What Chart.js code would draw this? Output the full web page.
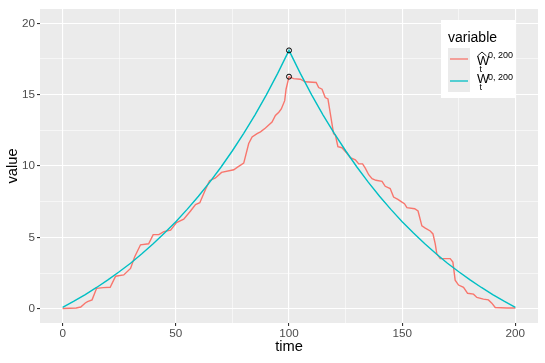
<!DOCTYPE html>
<html>
<head>
<meta charset="utf-8">
<script src="https://cdn.jsdelivr.net/npm/chart.js@4.4.1/dist/chart.umd.min.js"></script>
<style>
  html, body { margin: 0; padding: 0; background: #fff; }
  #wrap { width: 545px; height: 363px; }
</style>
</head>
<body>
<div id="wrap"><canvas id="myChart"></canvas></div>
<script>
// estimated W-hat path (red)
const redTime = [0, 3, 6, 8, 10, 11, 13, 15, 18, 21, 23.4, 27, 30, 31.8, 34.4, 38, 40, 42.5, 44.7, 47.7,
  50.3, 53.5, 56.5, 58.7, 60.6, 63.1, 64.9, 67.5, 70.2, 75.6, 77.1, 80, 82.2, 83.7, 85.9, 87.4, 89.6,
  92.5, 94, 95.5, 96.6, 98.1, 98.7, 100, 102, 105, 107.2, 112, 113.1, 114.6, 116, 117.2, 119.7, 120.5,
  121.6, 123.4, 125.6, 127.1, 129.3, 130.8, 132.5, 133.7, 135.2, 136.7, 138.4, 141.1, 142.5, 144.7,
  146.2, 148.1, 149.9, 151, 152.1, 155.5, 157, 158.7, 160.2, 162.4, 163.6, 164.6, 165.3, 166.8, 171.2,
  172.4, 173.4, 174.9, 177.1, 178.9, 181.5, 183, 185.9, 188.1, 189.6, 191.1, 196.2, 200];
const redValue = [0.02, 0.03, 0.05, 0.12, 0.4, 0.5, 0.62, 1.43, 1.48, 1.5, 2.28, 2.37, 2.82, 3.62, 4.48, 4.55, 5.19, 5.19, 5.4, 5.5,
  6.04, 6.27, 6.85, 7.3, 7.43, 8.35, 8.97, 9.16, 9.55, 9.74, 9.9, 10.2, 11.58, 12.04, 12.27, 12.39, 12.66,
  13.08, 13.54, 13.77, 14.0, 14.58, 15.38, 16.26, 16.12, 16.08, 15.9, 15.85, 15.5, 15.38, 14.8, 14.7, 12.27, 12.16,
  11.35, 11.28, 10.89, 10.59, 10.43, 10.15, 10.15, 9.85, 9.39, 9.11, 9.0, 8.93, 8.58, 8.42,
  7.82, 7.66, 7.47, 7.36, 7.08, 7.01, 6.85, 5.81, 5.65, 5.45, 5.24, 4.55, 3.85, 3.51, 3.51,
  3.27, 2.0, 1.66, 1.5, 1.08, 1.02, 0.79, 0.67, 0.62, 0.39, 0.09, 0.05, 0.05];

// W path (teal)
const tealTime = [0, 5, 10, 15, 20, 25, 30, 35, 40, 45, 50, 55, 60, 65, 70, 75, 80, 85, 90, 95, 100,
  105, 110, 115, 120, 125, 130, 135, 140, 145, 150, 155, 160, 165, 170, 175, 180, 185, 190, 195, 200];
const tealValue = [0.1, 0.53, 0.99, 1.49, 2.02, 2.59, 3.19, 3.85, 4.55, 5.3, 6.1, 6.96, 7.88, 8.87, 9.93, 11.07, 12.29, 13.59, 14.99, 16.49, 18.1,
  16.49, 14.99, 13.59, 12.29, 11.07, 9.93, 8.87, 7.88, 6.96, 6.1, 5.3, 4.55, 3.85, 3.19, 2.59, 2.02, 1.49, 0.99, 0.53, 0.1];

// circled peaks
const peakTime = [100, 100];
const peakValue = [18.1, 16.26];

const timeTicks = [0, 25, 50, 75, 100, 125, 150, 175, 200];
const timeLabels = [0, 50, 100, 150, 200];
const valueTicks = [0, 2.5, 5, 7.5, 10, 12.5, 15, 17.5, 20];
const valueLabels = [0, 5, 10, 15, 20];

const legendTitle = 'variable';
const FONT = '"Liberation Sans", Arial, sans-serif';

const toPoints = (xs, ys) => xs.map((x, i) => ({x: x, y: ys[i]}));

const panelBg = {
  id: 'panelBg',
  beforeDraw(chart) {
    const {ctx, chartArea: a} = chart;
    ctx.save();
    ctx.fillStyle = '#EBEBEB';
    ctx.fillRect(a.left, a.top, a.right - a.left, a.bottom - a.top);
    ctx.restore();
  }
};

const legendBox = {
  id: 'legendBox',
  afterDraw(chart) {
    const c = chart.ctx;
    c.save();
    c.fillStyle = '#FFFFFF';
    c.fillRect(441, 20, 74, 78);
    c.fillStyle = '#000000';
    c.textBaseline = 'alphabetic';
    c.font = '14px ' + FONT;
    c.fillText(legendTitle, 448, 42);
    c.fillStyle = '#EBEBEB';
    c.fillRect(448, 48, 22, 44);
    c.lineWidth = 1.3;
    c.strokeStyle = '#F8766D';
    c.beginPath(); c.moveTo(450, 59); c.lineTo(468, 59); c.stroke();
    c.strokeStyle = '#00BFC4';
    c.beginPath(); c.moveTo(450, 81); c.lineTo(468, 81); c.stroke();

    c.fillStyle = '#000000';
    // hat W
    c.font = '13px ' + FONT;
    c.fillText('W', 477, 65);
    c.strokeStyle = '#000000';
    c.lineWidth = 0.9;
    c.beginPath(); c.moveTo(477.5, 56); c.lineTo(482, 52); c.lineTo(486.5, 56); c.stroke();
    c.font = '9px ' + FONT;
    c.fillText('0, 200', 488, 58);
    c.fillText('t', 479.5, 71.5);
    // W
    c.font = '13px ' + FONT;
    c.fillText('W', 477, 83);
    c.font = '9px ' + FONT;
    c.fillText('0, 200', 488, 80);
    c.fillText('t', 479.5, 89.5);
    c.restore();
  }
};

const ctx = document.getElementById('myChart');
const PLOT = new Chart(ctx, {
  type: 'line',
  data: {
    datasets: [{
      label: 'peaks',
      data: toPoints(peakTime, peakValue),
      showLine: false,
      pointRadius: 2.5,
      pointBorderWidth: 1,
      pointBorderColor: '#000000',
      pointBackgroundColor: 'rgba(0,0,0,0)',
      order: 0
    }, {
      label: 'W',
      data: toPoints(tealTime, tealValue),
      borderColor: '#00BFC4',
      borderWidth: 1.4,
      pointRadius: 0,
      tension: 0,
      order: 1
    }, {
      label: 'W hat',
      data: toPoints(redTime, redValue),
      borderColor: '#F8766D',
      borderWidth: 1.4,
      pointRadius: 0,
      tension: 0,
      order: 2
    }]
  },
  options: {
    responsive: true,
    maintainAspectRatio: false,
    animation: false,
    events: [],
    layout: { padding: { left: 0, right: 7, top: 6, bottom: 0 } },
    plugins: { legend: { display: false }, tooltip: { enabled: false } },
    scales: {
      x: {
        type: 'linear',
        min: -10,
        max: 210,
        afterBuildTicks: (s) => { s.ticks = timeTicks.map(v => ({value: v})); },
        afterFit: (s) => { s.height = 40; },
        border: { display: false },
        grid: {
          color: '#FFFFFF',
          lineWidth: (c) => timeLabels.includes(c.tick && c.tick.value) ? 1.1 : 0.55,
          tickColor: (c) => timeLabels.includes(c.tick && c.tick.value) ? '#333333' : 'rgba(0,0,0,0)',
          tickWidth: 1.1,
          tickLength: 3
        },
        ticks: {
          autoSkip: false,
          maxRotation: 0,
          padding: 1,
          color: '#4D4D4D',
          font: { family: FONT, size: 11.7 },
          callback: (v) => timeLabels.includes(v) ? String(v) : ''
        },
        title: {
          display: true,
          text: 'time',
          color: '#000000',
          font: { family: FONT, size: 14.7 },
          padding: { top: 0, bottom: 7 }
        }
      },
      y: {
        type: 'linear',
        min: -1,
        max: 21,
        afterBuildTicks: (s) => { s.ticks = valueTicks.map(v => ({value: v})); },
        afterFit: (s) => { s.width = 40; },
        border: { display: false },
        grid: {
          color: '#FFFFFF',
          lineWidth: (c) => valueLabels.includes(c.tick && c.tick.value) ? 1.1 : 0.55,
          tickColor: (c) => valueLabels.includes(c.tick && c.tick.value) ? '#333333' : 'rgba(0,0,0,0)',
          tickWidth: 1.1,
          tickLength: 3
        },
        ticks: {
          autoSkip: false,
          padding: 2,
          color: '#4D4D4D',
          font: { family: FONT, size: 11.7 },
          callback: (v) => valueLabels.includes(v) ? String(v) : ''
        },
        title: {
          display: true,
          text: 'value',
          color: '#000000',
          font: { family: FONT, size: 14.7 },
          padding: { top: 4, bottom: 0 }
        }
      }
    }
  },
  plugins: [panelBg, legendBox]
});
</script>
</body>
</html>
